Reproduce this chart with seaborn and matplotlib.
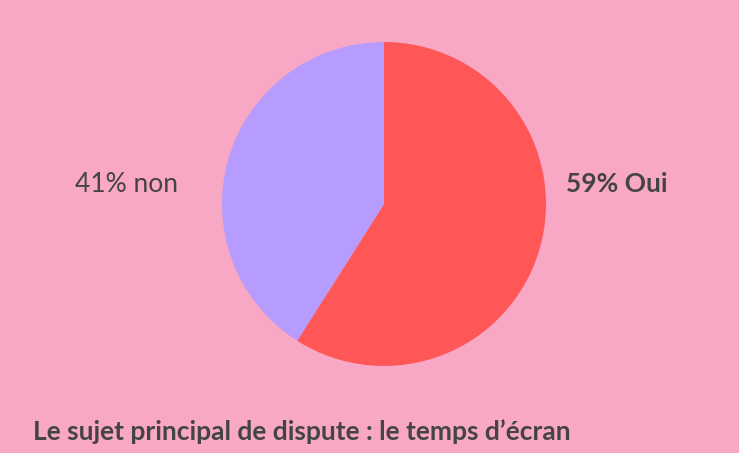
import matplotlib.pyplot as plt
import seaborn as sns

# Data
labels = ["Oui", "non"]
shares = [59, 41]
colors = ["#FF5757", "#B69CFF"]
title = "Le sujet principal de dispute : le temps d\u2019écran"

sns.set_theme(style="white")
plt.rcParams['font.family'] = ['Lato', 'DejaVu Sans']

bg = "#F8A7C4"
txt = "#444444"

fig = plt.figure(figsize=(7.39, 4.53), dpi=100)
fig.patch.set_facecolor(bg)
ax = fig.add_axes([0.5196 - 0.2192, 0.5497 - 0.3576, 0.4384, 0.7152])
ax.set_facecolor(bg)

wedges, _ = ax.pie(shares, colors=colors, startangle=90, counterclock=False,
                   wedgeprops=dict(linewidth=0))
ax.set_xlim(-1, 1)
ax.set_ylim(-1, 1)
ax.set_aspect('equal')
ax.axis('off')

# labels beside the pie
ax.text(1.123, 0.123, f"{shares[0]}% {labels[0]}", ha='left', va='center',
        fontsize=19, fontweight='bold', color=txt, clip_on=False)
ax.text(-1.27, 0.123, f"{shares[1]}% {labels[1]}", ha='right', va='center',
        fontsize=19, color=txt, clip_on=False)

fig.text(33 / 739, 1 - 432 / 453, title, ha='left', va='center',
         fontsize=19, fontweight='bold', color=txt)

fig.savefig('out.png', dpi=100, facecolor=bg)
